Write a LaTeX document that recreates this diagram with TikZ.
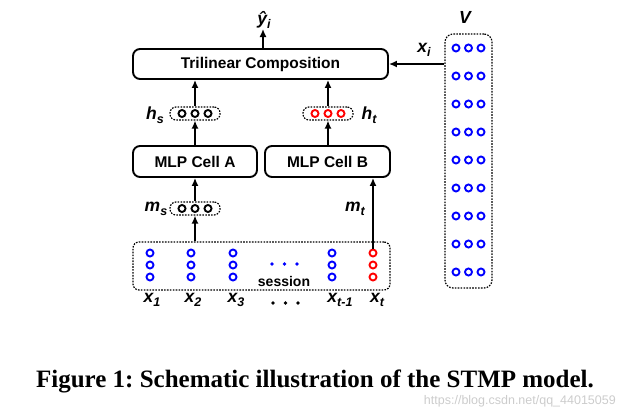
\documentclass[tikz,border=0pt]{standalone}
\usepackage{fontspec}
\setmainfont{Liberation Serif}
\newfontfamily\dfont{Liberation Sans}
\usetikzlibrary{arrows.meta}
\frenchspacing
\newcommand\lsub[2]{#1\raisebox{-0.45ex}{\fontsize{12.5}{12.5}\selectfont #2}}
\begin{document}
\begin{tikzpicture}[x=1pt,y=-1pt,
 box/.style={draw,line width=1.9pt,rounded corners=7pt,font=\dfont\bfseries\fontsize{15.5}{17}\selectfont,inner sep=0pt},
 dotbox/.style={draw,line width=1.2pt,dash pattern=on 1.6pt off 1.3pt,rounded corners=6pt,inner sep=0pt},
 cir/.style={circle,draw,line width=1.9pt,minimum size=7pt,inner sep=0pt},
 arr/.style={line width=1.5pt,-{Latex[length=8pt,width=7pt]}},
 lab/.style={font=\dfont\bfseries\itshape\fontsize{17.5}{19}\selectfont,inner sep=0pt},
 dotc/.style={circle,fill,inner sep=0pt,minimum size=#1}]
\useasboundingbox (0,0) rectangle (630,418);

% main boxes
\node[box,minimum width=255pt,minimum height=30pt] (tri) at (260.5,64) {Trilinear Composition};
\node[box,minimum width=124pt,minimum height=31pt] (mlpa) at (195,161.5) {MLP Cell A};
\node[box,minimum width=125pt,minimum height=31pt] (mlpb) at (327.5,161.5) {MLP Cell B};

% dotted containers
\node[dotbox,minimum width=50pt,minimum height=13pt] (hs) at (195,113.5) {};
\node[dotbox,minimum width=50pt,minimum height=13pt] (ht) at (328,113.5) {};
\node[dotbox,minimum width=50pt,minimum height=13pt] (ms) at (195,208.5) {};
\node[dotbox,minimum width=257pt,minimum height=48pt] (sess) at (261.5,266) {};
\node[dotbox,minimum width=47pt,minimum height=254pt,rounded corners=8pt] (V) at (468.5,161) {};

% circles in small containers
\foreach \i/\dx in {1/-13,2/0,3/13}{
  \node[cir] (hs\i) at ([xshift=\dx pt]hs.center) {};
  \node[cir,red] (ht\i) at ([xshift=\dx pt]ht.center) {};
  \node[cir] (ms\i) at ([xshift=\dx pt]ms.center) {};
}

% V circles
\foreach \r in {0,...,8}{
  \foreach \c/\cx in {1/456,2/468.5,3/481}{
    \node[cir,blue] (v\r-\c) at (\cx,{48+28*\r}) {};
  }
}

% session circles
\foreach \k/\sx in {1/150,2/191,3/233,5/332}{
  \foreach \r/\ry in {1/253,2/265,3/277}{
    \node[cir,blue] (s\k-\r) at (\sx,\ry) {};
  }
}
\foreach \r/\ry in {1/253,2/265,3/277}{
  \node[cir,red] (s6-\r) at (373,\ry) {};
}
\foreach \j/\jx in {1/272,2/284.5,3/297}{
  \node[dotc=3.6pt,blue] (sd\j) at (\jx,264) {};
}
\node[font=\dfont\bfseries\fontsize{14}{16}\selectfont,inner sep=0pt] (sesslab) at (284,281.5) {session};

% labels
\node[lab] (yhat) at (264,20) {\lsub{ŷ}{i}};
\node[lab] (xi) at (424,50) {\lsub{x}{i}};
\node[lab] (Vlab) at (465,17) {V};
\node[lab] (hslab) at (155,115) {\lsub{h}{s}};
\node[lab] (htlab) at (369,115) {\lsub{h}{t}};
\node[lab] (mslab) at (156,209) {\lsub{m}{s}};
\node[lab] (mtlab) at (355,209) {\lsub{m}{t}};
\node[lab] (x1) at (152,300) {\lsub{x}{1}};
\node[lab] (x2) at (193,300) {\lsub{x}{2}};
\node[lab] (x3) at (236,300) {\lsub{x}{3}};
\foreach \j/\jx in {1/273,2/285.5,3/298}{
  \node[dotc=3.8pt] (xd\j) at (\jx,303) {};
}
\node[lab] (xtm) at (340,300) {\lsub{x}{t-1}};
\node[lab] (xt) at (377,300) {\lsub{x}{t}};

% connectors
\coordinate (ytop) at (263,29);
\draw[arr] (tri.north -| ytop) -- (ytop);
\draw[arr] (V.west |- tri.east) -- (tri.east);
\draw[arr] (hs.north) -- (tri.south -| hs.north);
\draw[arr] (ht.north) -- (tri.south -| ht.north);
\draw[arr] (mlpa.north -| hs.south) -- (hs.south);
\draw[arr] (mlpb.north -| ht.south) -- (ht.south);
\draw[arr] (ms.north) -- (mlpa.south -| ms.north);
\draw[arr] (sess.north -| ms.south) -- (ms.south);
\draw[arr] (s6-1.north) -- (mlpb.south -| s6-1.north);

% caption
\node[font=\bfseries\fontsize{25}{28}\selectfont,inner sep=0pt] (cap) at (315,381) {Figure 1: Schematic illustration of the STMP model.};
\node[font=\dfont\fontsize{12.5}{14}\selectfont,text=gray!40,anchor=east,inner sep=0pt] (wm) at (616,401) {https://blog.csdn.net/qq\_44015059};
\end{tikzpicture}
\end{document}
